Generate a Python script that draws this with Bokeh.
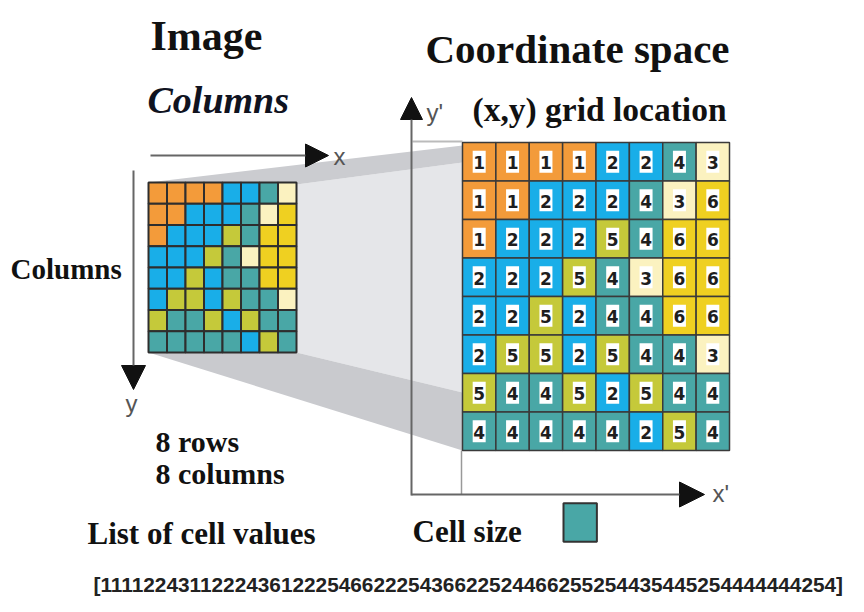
from bokeh.plotting import figure
from bokeh.models import Range1d, Arrow, NormalHead
from bokeh.core.properties import value
from bokeh.embed import file_html
from bokeh.resources import INLINE

# ---------------- data ----------------
grid_rows = [
    [1, 1, 1, 1, 2, 2, 4, 3],
    [1, 1, 2, 2, 2, 4, 3, 6],
    [1, 2, 2, 2, 5, 4, 6, 6],
    [2, 2, 2, 5, 4, 3, 6, 6],
    [2, 2, 5, 2, 4, 4, 6, 6],
    [2, 5, 5, 2, 5, 4, 4, 3],
    [5, 4, 4, 5, 2, 5, 4, 4],
    [4, 4, 4, 4, 4, 2, 5, 4],
]
value_colors = {
    1: "#F39B3A",
    2: "#19AEE8",
    3: "#FBF2C0",
    4: "#49A7A6",
    5: "#C5C93A",
    6: "#EFD021",
}
cell_size_value = 4
n_rows = len(grid_rows)
n_cols = len(grid_rows[0])
cell_list_text = "[" + "".join(str(v) for r in grid_rows for v in r) + "]"

# ---------------- layout (screen-like coordinates) ----------------
W, H = 848, 596
TY = -9  # text vertical correction
p = figure(width=W, height=H, x_range=Range1d(0, W), y_range=Range1d(H, 0),
           output_backend="svg", toolbar_location=None,
           x_axis_location=None, y_axis_location=None, min_border=0)
p.outline_line_color = None
p.grid.visible = False
p.background_fill_color = "white"

# small grid geometry
sx0, sy0, sx1, sy1 = 148, 182, 296, 352
# large grid geometry
bx0, by0, bx1, by1 = 462, 142, 729, 450
scw = (sx1 - sx0) / n_cols
sch = (sy1 - sy0) / n_rows
bcw = (bx1 - bx0) / n_cols
bch = (by1 - by0) / n_rows

# projection shading
p.patch([sx1, bx0, bx0, sx1], [sy0 + 2, by0 + 20, 392, sy1], fill_color="#E5E6E9", line_color=None)
p.patch([sx0, bx0, bx0, sx1], [sy0, by0 + 3, by0 + 20, sy0 + 2], fill_color="#CBCCD0", line_color=None)
p.patch([sx0, sx1, bx0, bx0], [sy1, sy1, 392, by1], fill_color="#C9CACE", line_color=None)

# helper lines around large grid
p.line([412, bx0], [by0 - 1, by0 - 1], line_color="#BBBBBB", line_width=2)
p.line([bx0 - 1, bx0 - 1], [by1, 494], line_color="#999999", line_width=1.5)

# cells
def cells(x0, y0, cw, ch):
    xs, ys, cs, vs = [], [], [], []
    for i, row in enumerate(grid_rows):
        for j, v in enumerate(row):
            xs.append(x0 + (j + 0.5) * cw)
            ys.append(y0 + (i + 0.5) * ch)
            cs.append(value_colors[v])
            vs.append(str(v))
    return xs, ys, cs, vs

xs, ys, cs, vs = cells(sx0, sy0, scw, sch)
p.rect(xs, ys, width=scw, height=sch, fill_color=cs, line_color="#2E2E2E", line_width=2)

xs, ys, cs, vs = cells(bx0, by0, bcw, bch)
p.rect(xs, ys, width=bcw, height=bch, fill_color=cs, line_color="#3A3A3A", line_width=1.5)
p.rect(xs, ys, width=13, height=22, fill_color="white", line_color=None)
p.text(xs, [y + 1 for y in ys], text=vs, text_align="center", text_baseline="middle",
       text_font=value("DejaVu Sans"), text_font_style="bold", text_font_size="17px",
       text_color="#1E1E1E")

# axes arrows
def arrow(x0, y0, x1, y1, size):
    p.add_layout(Arrow(x_start=x0, y_start=y0, x_end=x1, y_end=y1,
                       line_color="#666666", line_width=2,
                       end=NormalHead(size=size, fill_color="#111111", line_color="#111111")))

arrow(150, 155, 328, 155, 23)       # x
arrow(133, 170, 133, 389, 24)       # y
arrow(411, 495, 411, 97, 22)        # y'
arrow(411, 494, 704, 494, 25)       # x'

# axis letters
lab = dict(text_font=value("Liberation Sans"), text_color="#555555", text_font_size="24px",
           text_baseline="alphabetic")
p.text([333], [165 + TY], text=["x"], text_align="left", **lab)
p.text([125], [412 + TY], text=["y"], text_align="left", **lab)
p.text([426], [121 + TY], text=["y'"], text_align="left", **lab)
p.text([712], [502 + TY], text=["x'"], text_align="left", **lab)

# titles & labels
serif = value("Liberation Serif")
def label(x, y, s, size, style="bold", color="#111111"):
    p.text([x], [y + TY], text=[s], text_align="left", text_baseline="alphabetic",
           text_font=serif, text_font_style=style, text_font_size=size, text_color=color)

label(150, 44, "Image", "42px")
label(425, 57, "Coordinate space", "41px")
label(147, 108, "Columns", "38px", style="bold italic", color="#10131f")
label(472, 118, "(x,y) grid location", "33.5px")
label(10, 277, "Columns", "29px")
label(155, 450, "8 rows", "30px")
label(155, 482, "8 columns", "30px")
label(87, 542, "List of cell values", "31px")
label(412, 540, "Cell size", "31px")

# cell size sample
p.rect([bx0 + 100 + bcw / 2 + 1], [522], width=bcw, height=bch, fill_color=value_colors[cell_size_value],
       line_color="#333333", line_width=2)

# list of cell values
p.text([93], [593 + TY], text=[cell_list_text], text_align="left", text_baseline="alphabetic",
       text_font=value("Liberation Sans"), text_font_style="bold", text_font_size="20.8px",
       text_color="#222222")

open("out.html", "w").write(file_html(p, INLINE))
